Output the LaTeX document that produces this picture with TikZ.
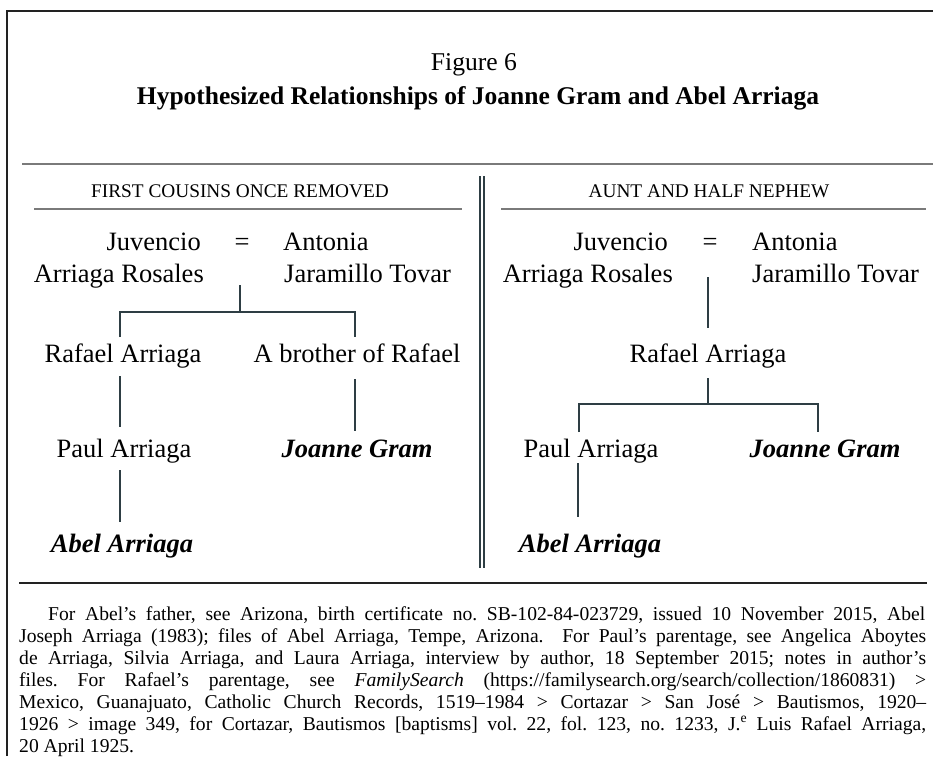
\documentclass[tikz,border=0pt]{standalone}
\usepackage{fontspec}
\setmainfont{Liberation Serif}
\definecolor{connc}{HTML}{2E3E44}
\definecolor{rulec}{HTML}{7A7A7A}
\definecolor{framec}{HTML}{222222}
\begin{document}
\frenchspacing
\begin{tikzpicture}[x=1pt,y=-1pt,
  nm/.style={inner sep=0pt, font=\fontsize{26.5}{32}\selectfont},
  bnm/.style={inner sep=0pt, font=\fontsize{26.5}{32}\selectfont\bfseries\itshape},
  sub/.style={inner sep=0pt, font=\fontsize{19.3}{23}\selectfont},
  fn/.style={inner sep=0pt, anchor=base west, font=\fontsize{19.6}{22}\selectfont},
  conn/.style={draw=connc, line width=1.1pt},
  hrule/.style={draw=rulec, line width=1.6pt},
  vrule/.style={draw=connc, line width=1.1pt}]
\useasboundingbox (0,0) rectangle (933,756);
% frame
\draw[draw=framec, line width=1.5pt] (7,756) -- (7,11) -- (933,11);
% headings
\node[inner sep=0pt, anchor=base, font=\fontsize{25.6}{30}\selectfont] (fig) at (474,70) {Figure 6};
\node[inner sep=0pt, anchor=base, font=\fontsize{25.5}{30}\selectfont\bfseries] (title) at (478,104) {Hypothesized Relationships of Joanne Gram and Abel Arriaga};
\draw[hrule] (22,164) -- (933,164);
% double divider
\coordinate (d1t) at (480,176); \coordinate (d1b) at (480,568);
\coordinate (d2t) at (484,176); \coordinate (d2b) at (484,568);
\draw[vrule] (d1t) -- (d1b);
\draw[vrule] (d2t) -- (d2b);
% sub headings
\node[sub, anchor=base] (subL) at (240,197) {FIRST COUSINS ONCE REMOVED};
\node[sub, anchor=base] (subR) at (709,197) {AUNT AND HALF NEPHEW};
\draw[hrule] (34,209) -- (462,209);
\draw[hrule] (501,209) -- (926,209);

% ---------- left tree ----------
\node[nm, anchor=base east] (lJ1) at (201,250) {Juvencio};
\node[nm, anchor=base east] (lJ2) at (204,282) {Arriaga Rosales};
\node[nm, anchor=base] (lEq) at (242,250) {=};
\node[nm, anchor=base west] (lA1) at (283,250) {Antonia};
\node[nm, anchor=base west] (lA2) at (284,282) {Jaramillo Tovar};
\node[nm, anchor=base] (lRaf) at (123,362) {Rafael Arriaga};
\node[nm, anchor=base] (lBro) at (357,362) {A brother of Rafael};
\node[nm, anchor=base] (lPaul) at (124,457) {Paul Arriaga};
\node[bnm, anchor=base] (lJoa) at (357,457) {Joanne Gram};
\node[bnm, anchor=base] (lAbel) at (122,552) {Abel Arriaga};
\coordinate (lc0) at (240,285);
\coordinate (lc1) at (240,312);
\coordinate (lbL) at (120,312);
\coordinate (lbR) at (355,312);
\coordinate (lbLd) at (120,337);
\coordinate (lbRd) at (355,337);
\draw[conn] (lc0) -- (lc1);
\draw[conn] (lbLd) -- (lbL) -- (lbR) -- (lbRd);
\coordinate (lr1) at (120,376); \coordinate (lr2) at (120,427);
\coordinate (lb1) at (355,379); \coordinate (lb2) at (355,431);
\coordinate (lp1) at (120,470); \coordinate (lp2) at (120,522);
\draw[conn] (lr1) -- (lr2);
\draw[conn] (lb1) -- (lb2);
\draw[conn] (lp1) -- (lp2);

% ---------- right tree ----------
\node[nm, anchor=base east] (rJ1) at (668,250) {Juvencio};
\node[nm, anchor=base east] (rJ2) at (673,282) {Arriaga Rosales};
\node[nm, anchor=base] (rEq) at (710,250) {=};
\node[nm, anchor=base west] (rA1) at (752,250) {Antonia};
\node[nm, anchor=base west] (rA2) at (752,282) {Jaramillo Tovar};
\node[nm, anchor=base] (rRaf) at (708,362) {Rafael Arriaga};
\node[nm, anchor=base] (rPaul) at (591,457) {Paul Arriaga};
\node[bnm, anchor=base] (rJoa) at (825,457) {Joanne Gram};
\node[bnm, anchor=base] (rAbel) at (590,552) {Abel Arriaga};
\coordinate (rc0) at (708,277); \coordinate (rc1) at (708,328);
\coordinate (rr0) at (708,378); \coordinate (rr1) at (708,404);
\coordinate (rbL) at (579,404); \coordinate (rbR) at (818,404);
\coordinate (rbLd) at (579,432); \coordinate (rbRd) at (818,432);
\coordinate (rp1) at (578,463); \coordinate (rp2) at (578,517);
\draw[conn] (rc0) -- (rc1);
\draw[conn] (rr0) -- (rr1);
\draw[conn] (rbLd) -- (rbL) -- (rbR) -- (rbRd);
\draw[conn] (rp1) -- (rp2);

% ---------- footnote ----------
\draw[draw=framec, line width=1.2pt] (19,583) -- (927,583);
\node[fn] (f1) at (48,620) {\makebox[877pt][s]{For Abel's father, see Arizona, birth certificate no. SB-102-84-023729, issued 10 November 2015, Abel}};
\node[fn] (f2) at (19,642) {\makebox[907pt][s]{Joseph Arriaga (1983); files of Abel Arriaga, Tempe, Arizona.\ \ For Paul's parentage, see Angelica Aboytes}};
\node[fn] (f3) at (19,664) {\makebox[907pt][s]{de Arriaga, Silvia Arriaga, and Laura Arriaga, interview by author, 18 September 2015; notes in author's}};
\node[fn] (f4) at (19,686) {\makebox[907pt][s]{files. For Rafael's parentage, see \textit{FamilySearch} (https://familysearch.org/search/collection/1860831) >}};
\node[fn] (f5) at (19,708) {\makebox[907pt][s]{Mexico, Guanajuato, Catholic Church Records, 1519–1984 > Cortazar > San José > Bautismos, 1920–}};
\node[fn] (f6) at (19,730) {\makebox[907pt][s]{1926 > image 349, for Cortazar, Bautismos [baptisms] vol. 22, fol. 123, no. 1233, J.\textsuperscript{e} Luis Rafael Arriaga,}};
\node[fn] (f7) at (19,752) {20 April 1925.};
\end{tikzpicture}
\end{document}
